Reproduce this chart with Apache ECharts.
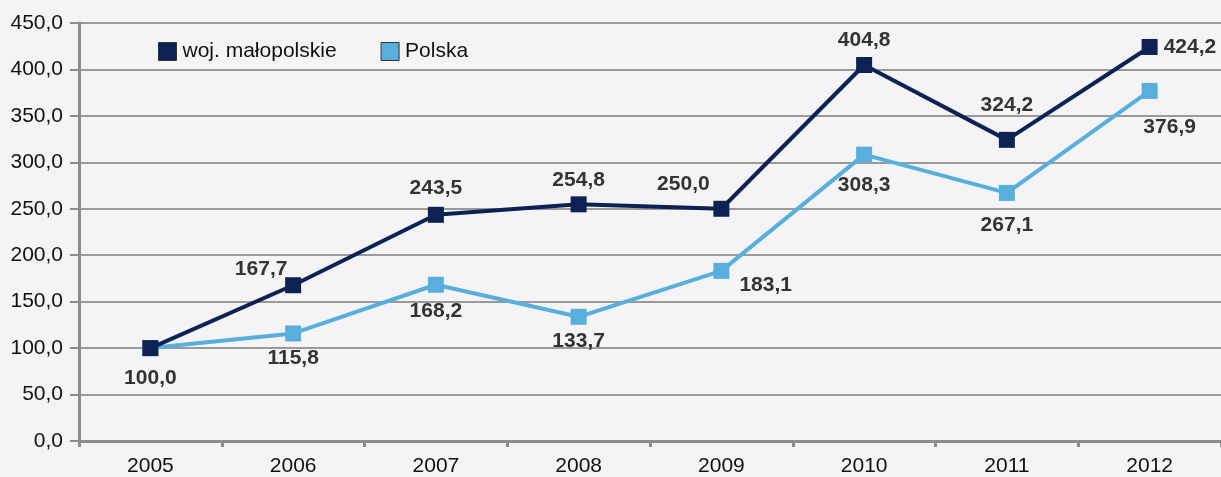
<!DOCTYPE html>
<html>
<head>
<meta charset="utf-8">
<script src="https://cdn.jsdelivr.net/npm/echarts@6/dist/echarts.min.js"></script>
<style>
  html, body { margin: 0; padding: 0; background: #f4f4f6; }
  #chart { width: 1221px; height: 477px; }
</style>
</head>
<body>
<div id="chart"></div>
<script>
const years = ['2005', '2006', '2007', '2008', '2009', '2010', '2011', '2012']
const malopolskie = [100.0, 167.7, 243.5, 254.8, 250.0, 404.8, 324.2, 424.2]
const polska = [100.0, 115.8, 168.2, 133.7, 183.1, 308.3, 267.1, 376.9]

// label placement per point: [position, dx, dy] (null = no label)
const malLabels = [
  ['bottom', 0, 6], ['top', -32, 8], ['top', 0, -2], ['top', 0, 0],
  ['top', -38, 0], ['top', 0, 0], ['top', 0, -10], ['right', 0, 0]
]
const polLabels = [
  null, ['bottom', 0, 0], ['bottom', 0, 2], ['bottom', 0, 0],
  ['right', 4, 14], ['bottom', 0, 6], ['bottom', 0, 8], ['bottom', 20, 12]
]

const fmt = (v) => v.toFixed(1).replace('.', ',')

function buildData(values, labels) {
  return values.map((v, i) => {
    const l = labels[i]
    if (!l) return { value: v, label: { show: false } }
    return { value: v, label: { show: true, position: l[0], offset: [l[1], l[2]] } }
  })
}

const dark = '#0c2253'
const light = '#58afdc'

const chart = echarts.init(document.getElementById('chart'))
chart.setOption({
  backgroundColor: '#f4f4f6',
  animation: false,
  textStyle: { fontFamily: 'Liberation Sans, Arial, sans-serif' },
  grid: { left: 79, right: 0, top: 23, bottom: 35 },
  legend: {
    left: 153,
    top: 36,
    itemWidth: 18,
    itemHeight: 18,
    itemGap: 44,
    icon: 'rect',
    textStyle: { fontSize: 21, color: '#111', padding: [0, 0, 0, 1] },
    data: [
      { name: 'woj. małopolskie', itemStyle: { color: dark, borderColor: '#333', borderWidth: 1 } },
      { name: 'Polska', itemStyle: { color: light, borderColor: '#333', borderWidth: 1 } }
    ]
  },
  xAxis: {
    type: 'category',
    data: years,
    boundaryGap: true,
    axisLine: { lineStyle: { color: '#8c8c8c', width: 3 } },
    axisTick: { show: true, length: 6, lineStyle: { color: '#8c8c8c', width: 3 } },
    axisLabel: { fontSize: 21, color: '#111', margin: 15 }
  },
  yAxis: {
    type: 'value',
    min: 0,
    max: 450,
    interval: 50,
    axisLine: { show: true, lineStyle: { color: '#8c8c8c', width: 3 } },
    axisTick: { show: true, length: 9, lineStyle: { color: '#8c8c8c', width: 2 } },
    axisLabel: { fontSize: 21, color: '#111', margin: 16, formatter: fmt },
    splitLine: { lineStyle: { color: '#9a9a9a', width: 2 } }
  },
  series: [
    {
      name: 'Polska',
      type: 'line',
      data: buildData(polska, polLabels),
      symbol: 'rect',
      symbolSize: 16,
      lineStyle: { color: light, width: 4 },
      itemStyle: { color: light },
      label: { fontSize: 21, fontWeight: 'bold', color: '#333', distance: 6, formatter: (p) => fmt(p.value) },
      z: 2
    },
    {
      name: 'woj. małopolskie',
      type: 'line',
      data: buildData(malopolskie, malLabels),
      symbol: 'rect',
      symbolSize: 16,
      lineStyle: { color: dark, width: 4 },
      itemStyle: { color: dark },
      label: { fontSize: 21, fontWeight: 'bold', color: '#333', distance: 6, formatter: (p) => fmt(p.value) },
      z: 3
    }
  ]
})
</script>
</body>
</html>
